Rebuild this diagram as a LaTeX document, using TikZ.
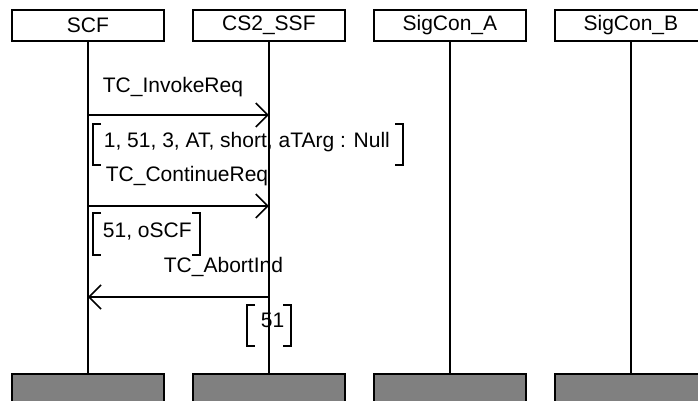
\documentclass[tikz,border=0pt]{standalone}
\usepackage{fontspec}
\setmainfont{Liberation Sans}
\usetikzlibrary{arrows.meta}
\begin{document}
\begin{tikzpicture}[x=1pt,y=-1pt,
  line width=1.8pt,
  every node/.style={font=\fontsize{21}{25}\selectfont},
  head/.style={draw,minimum width=152pt,minimum height=31pt,inner sep=0pt,anchor=north west},
  foot/.style={draw,fill={rgb,255:red,128;green,128;blue,128},minimum width=152pt,minimum height=40pt,inner sep=0pt,anchor=north west},
  msg/.style={-{Straight Barb[length=12pt,width=24pt,line width=1.6pt]}},
  lbl/.style={anchor=base west,inner sep=0pt},
  brk/.style={line width=1.6pt}]
\useasboundingbox (0,0) rectangle (698,401);
\clip (0,0) rectangle (698,401);
% heads
\node[head] (h1) at (11,9) {SCF};
\node[head] (h2) at (192,9) {CS2\_SSF};
\node[head] (h3) at (373,9) {SigCon\_A};
\node[head] (h4) at (554,9) {SigCon\_B};
% feet
\node[foot] (f1) at (11,373) {};
\node[foot] (f2) at (192,373) {};
\node[foot] (f3) at (373,373) {};
\node[foot] (f4) at (554,373) {};
% lifelines
\foreach \i in {1,2,3,4}{\draw (h\i.south) -- (f\i.north);}
% message anchor points
\coordinate (a1) at (h1.south |- 0,115);
\coordinate (b1) at (h2.south |- 0,115);
\coordinate (a2) at (h1.south |- 0,206);
\coordinate (b2) at (h2.south |- 0,206);
\coordinate (a3) at (h1.south |- 0,297);
\coordinate (b3) at (h2.south |- 0,297);
% messages
\draw[msg] (a1) -- (b1);
\node[lbl] (m1) at (102,93) {TC\_InvokeReq};
\draw[msg] (a2) -- (b2);
\node[lbl] (m2) at (105,181) {TC\_ContinueReq};
\draw[msg] (b3) -- (a3);
\node[lbl] (m3) at (163,272) {TC\_AbortInd};
% parameters
\node[lbl] (p1) at (103,147) {1, 51, 3, AT, short, aTArg : Null};
\draw[brk] (101,124) -- (93,124) -- (93,165) -- (101,165);
\draw[brk] (395,124) -- (403,124) -- (403,165) -- (395,165);
\node[lbl] (p2) at (102,237) {51, oSCF};
\draw[brk] (101,213) -- (93,213) -- (93,255) -- (101,255);
\draw[brk] (192,213) -- (200,213) -- (200,255) -- (192,255);
\node[lbl] (p3) at (260,327) {51};
\draw[brk] (255,305) -- (247,305) -- (247,346) -- (255,346);
\draw[brk] (283,305) -- (291,305) -- (291,346) -- (283,346);
\end{tikzpicture}
\end{document}
